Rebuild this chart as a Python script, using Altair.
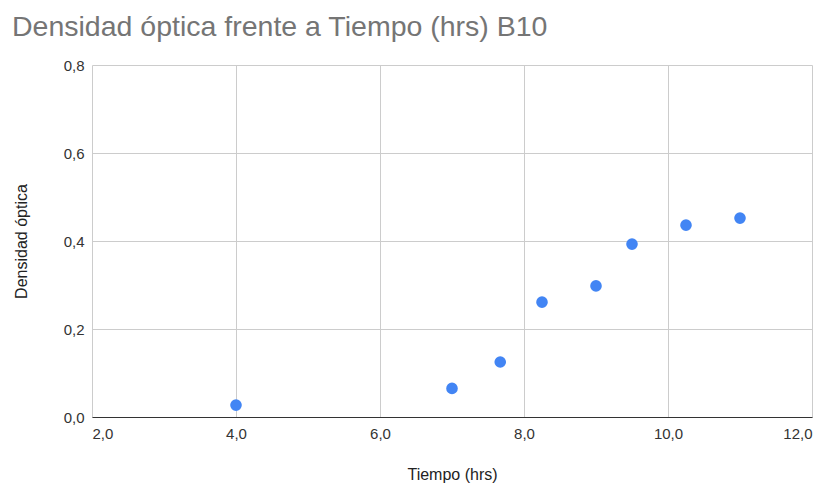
import altair as alt
import pandas as pd

tiempo = [4.0, 7.0, 7.67, 8.25, 9.0, 9.5, 10.25, 11.0]
densidad = [0.027, 0.065, 0.125, 0.261, 0.298, 0.393, 0.436, 0.452]

df = pd.DataFrame({"Tiempo (hrs)": tiempo, "Densidad óptica": densidad})

FONT = "Liberation Sans"
label_expr = "replace(format(datum.value, '.1f'), '.', ',')"

points = alt.Chart(df).mark_circle(size=135, opacity=1, color="#4285F4").encode(
    x=alt.X(
        "Tiempo (hrs):Q",
        scale=alt.Scale(domain=[2, 12], nice=False, zero=False),
        axis=alt.Axis(
            values=[2, 4, 6, 8, 10, 12],
            labelExpr=label_expr,
            title="Tiempo (hrs)",
            domain=True,
            domainColor="#333333",
            domainWidth=1,
            ticks=False,
            grid=True,
            gridColor="#cccccc",
            labelPadding=9,
            titlePadding=25,
        ),
    ),
    y=alt.Y(
        "Densidad óptica:Q",
        scale=alt.Scale(domain=[0, 0.8], nice=False),
        axis=alt.Axis(
            values=[0, 0.2, 0.4, 0.6, 0.8],
            labelExpr=label_expr,
            title="Densidad óptica",
            domain=False,
            ticks=False,
            grid=True,
            gridColor="#cccccc",
            labelPadding=8,
            titlePadding=34,
        ),
    ),
)

chart = points.properties(
    width=720,
    height=352,
    title=alt.TitleParams(
        "Densidad óptica frente a Tiempo (hrs) B10",
        anchor="start",
        frame="group",
        dx=-80,
        offset=17,
        fontSize=28.5,
        font=FONT,
        fontWeight="normal",
        color="#757575",
    ),
    autosize=alt.AutoSizeParams(type="none"),
    padding={"left": 92, "top": 65, "right": 20, "bottom": 69},
).configure_axis(
    labelFont=FONT,
    titleFont=FONT,
    labelFontSize=15,
    titleFontSize=16,
    labelColor="#333333",
    titleColor="#222222",
    titleFontWeight="normal",
).configure_view(stroke=None)

chart.save("out.html", embed_options={"renderer": "svg", "actions": False})
